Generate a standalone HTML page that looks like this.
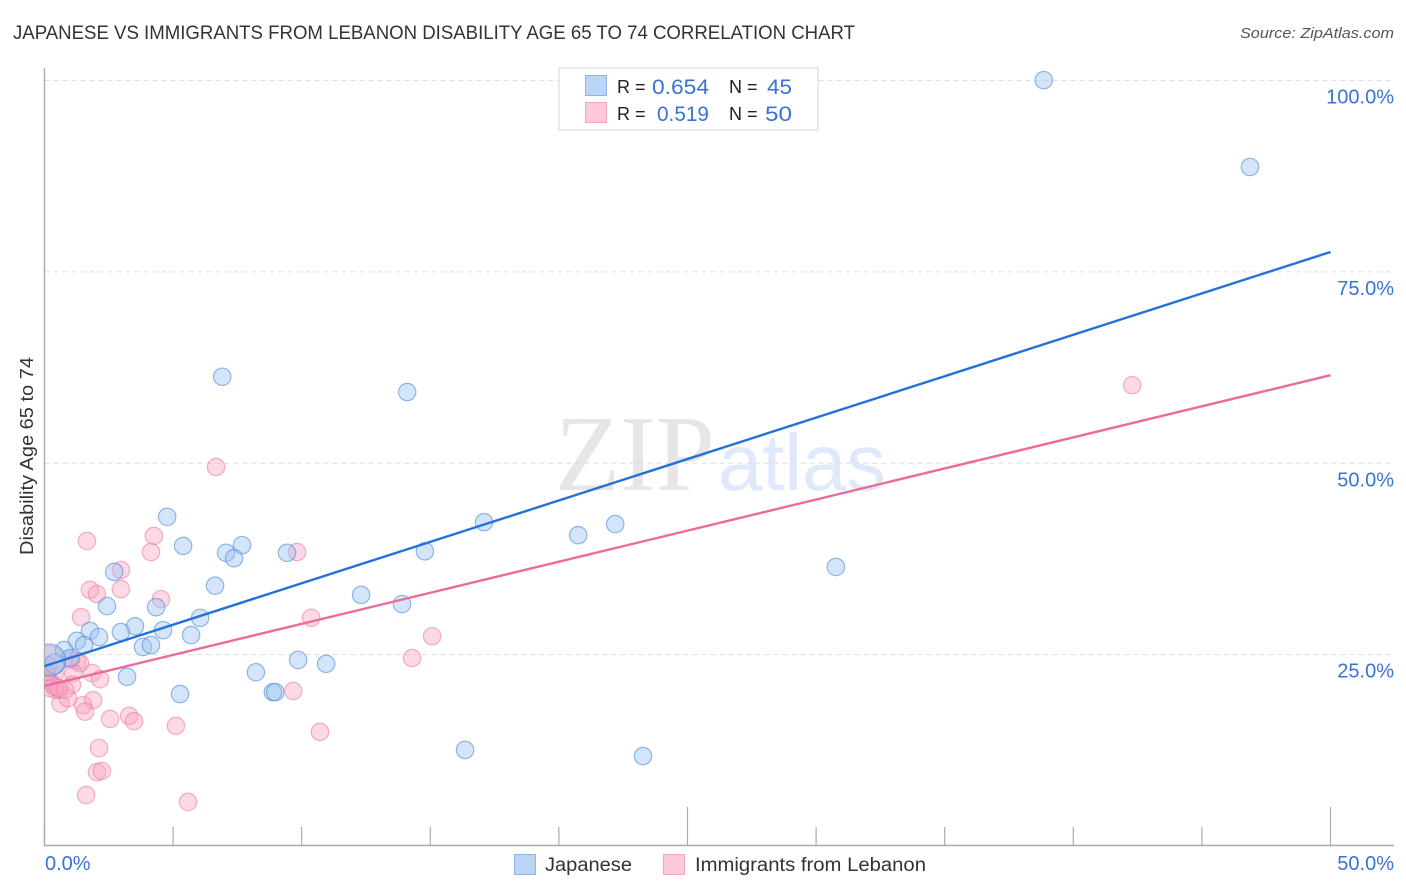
<!DOCTYPE html>
<html lang="en">
<head>
<meta charset="utf-8">
<title>Japanese vs Immigrants from Lebanon Disability Age 65 to 74 Correlation Chart</title>
<style>
html,body{margin:0;padding:0;background:#fff;width:1406px;height:892px;overflow:hidden}
svg{display:block;font-family:"Liberation Sans",sans-serif}
</style>
</head>
<body>
<svg id="chart" width="1406" height="892" viewBox="0 0 1406 892" xmlns="http://www.w3.org/2000/svg">
  <defs><clipPath id="plot-clip"><rect x="45" y="60" width="1350" height="786"/></clipPath></defs>
  <text x="13" y="39" font-size="19" fill="#333" textLength="842" lengthAdjust="spacingAndGlyphs">JAPANESE VS IMMIGRANTS FROM LEBANON DISABILITY AGE 65 TO 74 CORRELATION CHART</text>
  <text x="1394" y="38" font-size="15" font-style="italic" fill="#555" text-anchor="end" textLength="154" lengthAdjust="spacingAndGlyphs">Source: ZipAtlas.com</text>
  <g>
    <text x="555" y="490" font-family="'Liberation Serif',serif" font-size="108" fill="#e6e6e6" textLength="160" lengthAdjust="spacingAndGlyphs">ZIP</text>
    <text x="718" y="490" font-size="80" fill="#dfe9f9" textLength="168" lengthAdjust="spacingAndGlyphs">atlas</text>
  </g>
  <g id="grid"></g>
  <g id="axes"></g>
  <g id="points" clip-path="url(#plot-clip)"></g>
  <g id="trends"></g>
  <text transform="translate(33,456) rotate(-90)" font-size="18" fill="#333" text-anchor="middle" textLength="198" lengthAdjust="spacingAndGlyphs">Disability Age 65 to 74</text>
  <g>
    <rect x="559" y="68" width="259" height="62" fill="#fff" stroke="#ddd" stroke-width="1.2"/>
    <rect x="585.5" y="75.5" width="21" height="20" fill="#bcd5f7" stroke="#8fb4e8"/>
    <rect x="585.5" y="102.5" width="21" height="20" fill="#fdc9d9" stroke="#f4a6bf"/>
    <text x="617" y="93" font-size="18" fill="#222">R =</text>
    <text x="652" y="94" font-size="21" fill="#3b73d1" textLength="57" lengthAdjust="spacingAndGlyphs">0.654</text>
    <text x="729" y="93" font-size="18" fill="#222">N =</text>
    <text x="767" y="94" font-size="21" fill="#3b73d1" textLength="25" lengthAdjust="spacingAndGlyphs">45</text>
    <text x="617" y="120" font-size="18" fill="#222">R =</text>
    <text x="657" y="121" font-size="21" fill="#3b73d1" textLength="52" lengthAdjust="spacingAndGlyphs">0.519</text>
    <text x="729" y="120" font-size="18" fill="#222">N =</text>
    <text x="765" y="121" font-size="21" fill="#3b73d1" textLength="27" lengthAdjust="spacingAndGlyphs">50</text>
  </g>
  <g>
    <rect x="514.5" y="854.5" width="21" height="20" fill="#bcd5f7" stroke="#8fb4e8"/>
    <text x="545" y="871" font-size="19" fill="#333" textLength="87" lengthAdjust="spacingAndGlyphs">Japanese</text>
    <rect x="663.5" y="854.5" width="21" height="20" fill="#fdc9d9" stroke="#f4a6bf"/>
    <text x="695" y="871" font-size="19" fill="#333" textLength="231" lengthAdjust="spacingAndGlyphs">Immigrants from Lebanon</text>
  </g>
</svg>
<script>
// Data values: x = Japanese share (%), y = disability rate (%)
const japaneseX = [38.85,46.87,6.91,14.1,4.77,17.09,22.19,20.75,5.39,7.68,7.06,9.43,7.37,14.79,30.77,2.71,6.63,12.31,2.43,4.34,13.9,6.05,3.52,1.77,2.97,4.61,2.12,5.7,1.26,1.54,3.83,4.14,0.76,1.0,9.86,10.95,8.22,3.21,5.27,8.88,8.97,16.35,23.27,0.41,0.2];
const japaneseY = [100.05,88.7,61.3,59.3,43,42.3,42.05,40.6,39.2,39.3,38.3,38.3,37.6,38.5,36.45,35.8,34,32.8,31.35,31.2,31.6,29.8,28.7,28.1,27.95,28.2,27.3,27.55,26.8,26.25,26,26.25,25.6,24.55,24.3,23.8,22.7,22.1,19.85,20.1,20.1,12.55,11.75,23.8,24.3];
const lebanonX = [42.29,6.67,4.25,1.65,9.82,4.14,2.97,1.77,2.97,2.04,4.53,1.42,10.37,15.07,14.29,1.26,1.03,1.38,1.85,1.11,2.16,1.07,0.39,9.67,1.89,1.5,1.58,2.55,3.29,3.48,5.11,10.71,2.12,2.04,2.23,1.62,5.58,0.62,0.91,0.58,0.43,0.27,0.12,0.2,0.39,0.54,0.08,0.14,0.8,0.2];
const lebanonY = [60.2,49.5,40.5,39.85,38.4,38.4,36.05,33.45,33.55,32.9,32.25,29.9,29.8,27.4,24.55,24.15,24.3,23.9,22.6,22.6,21.8,21.05,22.4,20.25,19.05,18.4,17.55,16.6,17,16.3,15.7,14.9,12.8,9.65,9.8,6.65,5.75,18.6,19.3,20.4,20.4,21.3,21.7,20.65,20.9,20.65,22.7,23.6,20.4,24.2];
const trendX = [0,50];
const japaneseTrend = [23.5,77.6];
const lebanonTrend = [20.9,61.5];
const yTickValues = [100,75,50,25];
const yTickLabels = ["100.0%","75.0%","50.0%","25.0%"];
const xTickValues = [0,5,10,15,20,25,30,35,40,45,50];
const xEdgeLabels = ["0.0%","50.0%"];

const NS = "http://www.w3.org/2000/svg";
const xScale = v => 44.5 + v * 25.72;
const yScale = v => 846 - v * 7.655;
function make(tag, attrs, parent, text){
  const el = document.createElementNS(NS, tag);
  for (const k in attrs) el.setAttribute(k, attrs[k]);
  if (text !== undefined) el.textContent = text;
  parent.appendChild(el);
  return el;
}
const grid = document.getElementById('grid');
const axes = document.getElementById('axes');
const pts = document.getElementById('points');
const trends = document.getElementById('trends');

yTickValues.forEach((v, i) => {
  const line = make('line', {x1:44.5, x2:1394, y1:yScale(v), y2:yScale(v), stroke:'#dedede', 'stroke-width':1, 'stroke-dasharray':'5 4'}, grid);
  
  
  const label = make('text', {x:1394, y:yScale(v)+23, 'font-size':20, fill:'#3b73d1', 'text-anchor':'end'}, axes, yTickLabels[i]);
  
  
});

const yAxis = make('line', {x1:44.5, x2:44.5, y1:68, y2:846, stroke:'#aaa', 'stroke-width':1.4}, axes);


const xAxis = make('line', {x1:44, x2:1394, y1:845.5, y2:845.5, stroke:'#aaa', 'stroke-width':1.4}, axes);



xTickValues.forEach(v => {
  const tall = v === 25 || v === 50;
  const tick = make('line', {x1:xScale(v), x2:xScale(v), y1:tall ? 807 : 827, y2:846, stroke:'#aaa', 'stroke-width':1.2}, axes);
  
  
});
const xLabelLeft = make('text', {x:45, y:870, 'font-size':20, fill:'#3b73d1'}, axes, xEdgeLabels[0]);


const xLabelRight = make('text', {x:1394, y:870, 'font-size':20, fill:'#3b73d1', 'text-anchor':'end'}, axes, xEdgeLabels[1]);



// the left-most points of each series carry larger markers in the reference
function radiusFor(series, i){
  if (series === 'lebanon') return i === lebanonX.length - 1 ? 15 : 8.7;
  if (i === japaneseX.length - 1) return 16;
  if (i === japaneseX.length - 2) return 10;
  return 8.7;
}
lebanonX.forEach((v, i) => {
  const c = make('circle', {cx:xScale(v), cy:yScale(lebanonY[i]), r:radiusFor('lebanon', i), fill:'#f8a5c2', 'fill-opacity':0.42, stroke:'#ec7fa3', 'stroke-opacity':0.6, 'stroke-width':1.2}, pts);
  
  
});
japaneseX.forEach((v, i) => {
  const c = make('circle', {cx:xScale(v), cy:yScale(japaneseY[i]), r:radiusFor('japanese', i), fill:'#9cc2f0', 'fill-opacity':0.42, stroke:'#4f8ad8', 'stroke-opacity':0.6, 'stroke-width':1.2}, pts);
  
  
});

const blueLine = make('line', {x1:xScale(trendX[0]), y1:yScale(japaneseTrend[0]), x2:xScale(trendX[1]), y2:yScale(japaneseTrend[1]), stroke:'#2272d9', 'stroke-width':2.4}, trends);


const pinkLine = make('line', {x1:xScale(trendX[0]), y1:yScale(lebanonTrend[0]), x2:xScale(trendX[1]), y2:yScale(lebanonTrend[1]), stroke:'#ee6a9b', 'stroke-width':2.4}, trends);


</script>
</body>
</html>
